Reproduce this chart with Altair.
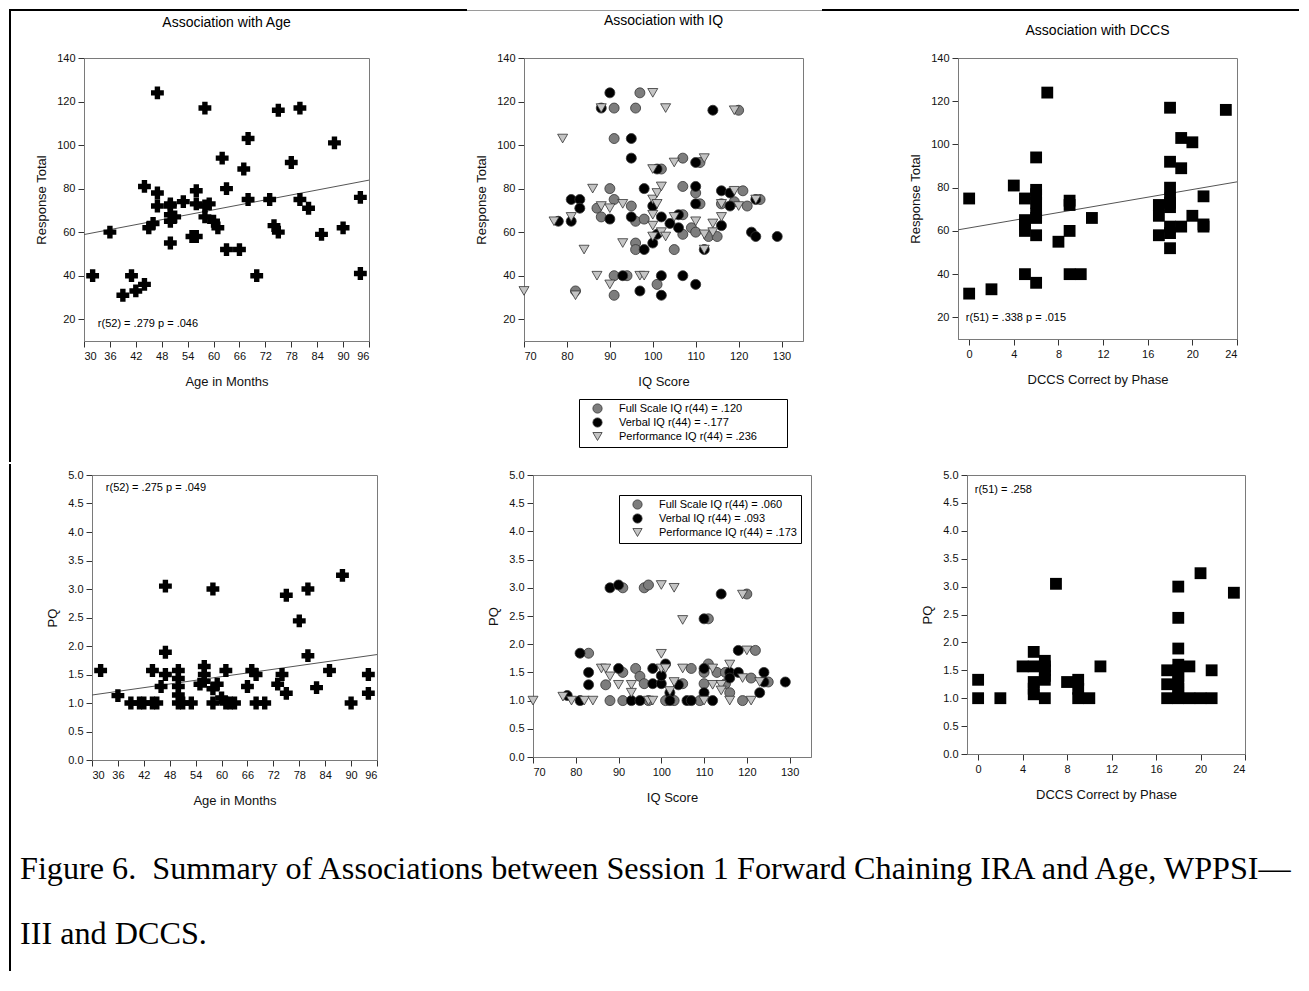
import altair as alt
import pandas as pd

FONT = "Liberation Sans"
SERIF = "Liberation Serif"

# ---------------- data ----------------
# Top-left: Response Total vs Age in Months
age_rt_x = [32, 36, 39, 41, 42, 44, 44, 45, 46, 47, 47, 47, 50, 50, 50, 50, 50, 51, 53, 55,
            56, 56, 56, 58, 58, 58, 59, 60, 61, 62, 63, 63, 66, 67, 68, 68, 70, 73, 74, 75,
            75, 78, 80, 80, 82, 85, 88, 90, 94, 94]
age_rt_y = [40, 60, 31, 40, 33, 36, 81, 62, 64, 124, 78, 72, 73, 72, 68, 65, 55, 67, 74, 58,
            58, 79, 73, 117, 72, 67, 73, 65, 62, 94, 80, 52, 52, 89, 103, 75, 40, 75, 63, 60,
            116, 92, 117, 75, 71, 59, 101, 62, 76, 41]
age_rt_fit_x = [30, 96]
age_rt_fit_y = [58.9, 83.9]

# Bottom-left: PQ vs Age in Months
age_pq_x = [32, 36, 39, 41, 42, 44, 44, 45, 46, 47, 47, 47, 50, 50, 50, 50, 50, 51, 53, 55,
            56, 56, 56, 58, 58, 58, 59, 60, 61, 61, 62, 63, 66, 67, 68, 68, 70, 73, 74, 75,
            75, 78, 80, 80, 82, 85, 88, 90, 94, 94]
age_pq_y = [1.57, 1.13, 1.0, 1.0, 1.0, 1.57, 1.0, 1.0, 1.29, 3.05, 1.89, 1.5, 1.57, 1.43, 1.29,
            1.14, 1.0, 1.0, 1.0, 1.33, 1.64, 1.5, 1.38, 3.0, 1.25, 1.0, 1.33, 1.09, 1.0, 1.57,
            1.0, 1.0, 1.29, 1.57, 1.5, 1.0, 1.0, 1.33, 1.5, 2.89, 1.17, 2.44, 3.0, 1.83, 1.27,
            1.57, 3.24, 1.0, 1.5, 1.17]
age_pq_fit_x = [30, 96]
age_pq_fit_y = [1.14, 1.85]

# Top-right: Response Total vs DCCS
dccs_rt_x = [0, 0, 2, 4, 5, 5, 5, 5, 5, 6, 6, 6, 6, 6, 6, 6, 6, 7, 8, 9, 9, 9, 9, 10, 11,
             17, 17, 17, 18, 18, 18, 18, 18, 18, 18, 18, 18, 19, 19, 19, 20, 20, 21, 21, 21, 23]
dccs_rt_y = [75, 31, 33, 81, 75, 65, 63, 60, 40, 94, 79, 77, 73, 68, 66, 58, 36, 124, 55, 74,
             72, 60, 40, 40, 66, 72, 67, 58, 117, 92, 80, 75, 73, 71, 62, 59, 52, 103, 89, 62,
             101, 67, 76, 63, 62, 116]
dccs_rt_fit_x = [-1, 24]
dccs_rt_fit_y = [60.5, 82.7]

# Bottom-right: PQ vs DCCS
dccs_pq_x = [0, 0, 2, 4, 5, 5, 5, 5, 5, 6, 6, 6, 6, 6, 6, 7, 8, 9, 9, 9, 10, 11, 17, 17, 17,
             18, 18, 18, 18, 18, 18, 18, 18, 18, 18, 19, 19, 20, 20, 21, 21, 23]
dccs_pq_y = [1.33, 1.0, 1.0, 1.57, 1.83, 1.57, 1.29, 1.17, 1.07, 1.67, 1.57, 1.5, 1.4, 1.33,
             1.0, 3.05, 1.29, 1.33, 1.17, 1.0, 1.0, 1.57, 1.5, 1.25, 1.0, 3.0, 2.44, 1.89, 1.6,
             1.5, 1.4, 1.29, 1.17, 1.08, 1.0, 1.57, 1.0, 3.24, 1.0, 1.5, 1.0, 2.89]

# Top-middle: Response Total vs IQ Score
iq_rt_full_x = [82, 87, 88, 90, 91, 91, 91, 91, 91, 94, 95, 96, 96, 96, 96, 97, 98, 101, 102,
                105, 107, 107, 107, 107, 109, 110, 110, 111, 111, 113, 115, 116, 119, 120, 121,
                122, 125]
iq_rt_full_y = [33, 71, 67, 80, 117, 103, 75, 40, 31, 40, 72, 117, 65, 55, 52, 124, 66, 36, 89,
                52, 94, 81, 68, 59, 62, 78, 60, 73, 92, 58, 58, 73, 74, 116, 79, 72, 75]
iq_rt_verbal_x = [78, 81, 81, 83, 83, 88, 90, 90, 93, 95, 95, 95, 97, 98, 98, 100, 100, 101, 101,
                  102, 102, 102, 104, 106, 106, 107, 110, 110, 110, 110, 112, 114, 116, 116, 118,
                  118, 123, 124, 124, 129]
iq_rt_verbal_y = [65, 75, 65, 75, 71, 117, 124, 66, 40, 103, 94, 67, 33, 80, 52, 72, 55, 59, 89,
                  67, 40, 31, 64, 62, 68, 40, 92, 81, 73, 36, 52, 116, 79, 63, 78, 72, 60, 58,
                  75, 58]
iq_rt_perf_x = [70, 77, 79, 81, 82, 84, 86, 87, 88, 88, 90, 90, 93, 93, 97, 98, 100, 100, 100,
                100, 100, 100, 101, 101, 102, 102, 103, 103, 105, 105, 110, 112, 112, 112, 114,
                114, 116, 116, 119, 119, 120, 124]
iq_rt_perf_y = [33, 65, 103, 67, 31, 52, 80, 40, 117, 72, 71, 36, 73, 55, 40, 40, 124, 89, 75,
                68, 63, 58, 78, 73, 81, 60, 117, 58, 92, 67, 65, 94, 59, 52, 64, 60, 73, 67, 116,
                79, 72, 75]

# Bottom-middle: PQ vs IQ Score
iq_pq_full_x = [83, 87, 88, 91, 91, 91, 94, 95, 96, 96, 97, 97, 101, 103, 105, 107, 109, 110,
                110, 111, 111, 113, 115, 115, 116, 119, 120, 121, 122, 125]
iq_pq_full_y = [1.84, 1.28, 1.0, 3.0, 1.5, 1.0, 1.57, 1.43, 3.0, 1.3, 3.05, 1.0, 1.0, 1.0, 1.3,
                1.57, 1.0, 1.5, 1.3, 2.45, 1.65, 1.5, 1.5, 1.3, 1.14, 1.0, 2.89, 1.4, 1.89, 1.33]
iq_pq_verbal_x = [78, 81, 81, 83, 83, 88, 90, 90, 93, 95, 98, 98, 100, 100, 101, 102, 102, 104,
                  106, 107, 110, 110, 110, 112, 114, 116, 116, 118, 118, 123, 124, 124, 129]
iq_pq_verbal_y = [1.09, 1.84, 1.0, 1.5, 1.28, 3.0, 3.05, 1.57, 1.0, 1.0, 1.57, 1.3, 1.3, 1.44,
                  1.65, 1.14, 1.0, 1.28, 1.0, 1.0, 2.45, 1.57, 1.14, 1.0, 2.89, 1.5, 1.4, 1.89,
                  1.5, 1.14, 1.5, 1.33, 1.33]
iq_pq_perf_x = [70, 77, 79, 82, 84, 86, 87, 88, 90, 93, 93, 97, 98, 100, 100, 100, 101, 102, 103,
                103, 105, 105, 110, 112, 112, 114, 114, 116, 116, 119, 119, 120, 121, 123]
iq_pq_perf_y = [1.0, 1.07, 1.0, 1.0, 1.0, 1.57, 1.57, 1.43, 1.28, 1.28, 1.14, 1.0, 1.0, 3.05,
                1.83, 1.57, 1.57, 1.17, 3.0, 1.33, 2.43, 1.57, 1.0, 1.57, 1.28, 1.28, 1.18, 1.64,
                1.0, 2.88, 1.4, 1.89, 1.0, 1.33]

iq_rt_labels = ["Full Scale IQ r(44) = .120", "Verbal IQ r(44) = -.177",
                "Performance IQ r(44) = .236"]
iq_pq_labels = ["Full Scale IQ r(44) = .060", "Verbal IQ r(44) = .093",
                "Performance IQ r(44) = .173"]

panel_titles = ["Association with Age", "Association with IQ", "Association with DCCS"]
caption_lines = ["Figure 6.\u00a0 Summary of Associations between Session 1 Forward Chaining IRA and Age, WPPSI\u2014",
                 "III and DCCS."]

age_ticks = [30, 36, 42, 48, 54, 60, 66, 72, 78, 84, 90, 96]
iq_ticks = [70, 80, 90, 100, 110, 120, 130]
dccs_ticks = [0, 4, 8, 12, 16, 20, 24]
rt_ticks = [20, 40, 60, 80, 100, 120, 140]
pq_ticks = [0.0, 0.5, 1.0, 1.5, 2.0, 2.5, 3.0, 3.5, 4.0, 4.5, 5.0]

# ---------------- styling ----------------
PLUS = "M-0.42,-1H0.42V-0.42H1V0.42H0.42V1H-0.42V0.42H-1V-0.42H-0.42Z"
series_colors = ["#7d7d7d", "#000000", "#c4c4c4"]
series_shapes = ["circle", "circle", "triangle-down"]

one = pd.DataFrame({"a": [0]})


def enc(xdom, ydom, xticks, yticks, xtitle, ytitle, yfmt=None):
    xax = alt.Axis(values=xticks, title=xtitle)
    yax = alt.Axis(values=yticks, title=ytitle, format=yfmt) if yfmt else alt.Axis(values=yticks, title=ytitle)
    x = alt.X("x:Q", scale=alt.Scale(domain=xdom, nice=False, zero=False), axis=xax)
    y = alt.Y("y:Q", scale=alt.Scale(domain=ydom, nice=False, zero=False), axis=yax)
    return x, y


def panel_title(text, cx, cy):
    return alt.Chart(one).mark_text(align="center", baseline="middle", font=FONT, fontSize=14,
                                    color="black").encode(
        x=alt.value(cx), y=alt.value(cy), text=alt.value(text))


def annotation(x, y, xval, yval, txt):
    return alt.Chart(pd.DataFrame({"x": [xval], "y": [yval], "t": [txt]})).mark_text(
        align="left", baseline="middle", font=FONT, fontSize=11, color="black"
    ).encode(x=x, y=y, text="t:N")


def fit(x, y, fx, fy):
    return alt.Chart(pd.DataFrame({"x": fx, "y": fy})).mark_line(
        color="#555555", strokeWidth=1, clip=True).encode(x=x, y=y)


def single_points(x, y, xs, ys, shape, size):
    return alt.Chart(pd.DataFrame({"x": xs, "y": ys})).mark_point(
        shape=shape, filled=True, color="black", size=size, opacity=1).encode(x=x, y=y)


def iq_points(x, y, xs3, ys3, labels, lx, ly, extra_right=0):
    rows = []
    for lab, xs, ys in zip(labels, xs3, ys3):
        for a, b in zip(xs, ys):
            rows.append({"x": a, "y": b, "series": lab})
    df = pd.DataFrame(rows)
    kw = dict(orient="none", legendX=lx, legendY=ly, strokeColor="black",
              fillColor="white", padding=4, labelFont=FONT, labelFontSize=11,
              labelColor="black", symbolSize=85, symbolStrokeColor="#333333",
              symbolStrokeWidth=0.8, rowPadding=1, labelOffset=16, symbolOffset=9)
    if extra_right:
        # blank title on the right side only widens the legend frame
        kw.update(title="\u00a0", titleOrient="right", titlePadding=extra_right,
                  titleFontSize=11)
    else:
        kw.update(title=None)
    leg = alt.Legend(**kw)
    return alt.Chart(df).mark_point(filled=True, size=100, opacity=1, stroke="#333333",
                                    strokeWidth=0.8).encode(
        x=x, y=y,
        color=alt.Color("series:N", scale=alt.Scale(domain=labels, range=series_colors), legend=leg),
        shape=alt.Shape("series:N", scale=alt.Scale(domain=labels, range=series_shapes), legend=leg),
    )


def band(x1, x2, y1, y2, color="black"):
    # filled page-frame segment (a rectangle without stroke, so its bounds are exact)
    return alt.Chart(one).mark_rect(color=color, strokeWidth=0).encode(
        x=alt.value(x1), x2=alt.value(x2), y=alt.value(y1), y2=alt.value(y2))


def spacer(w):
    return alt.Chart(one).mark_point(opacity=0).properties(
        width=w, height=10, view=alt.ViewBackground(strokeOpacity=0))


def indep(c):
    return c.resolve_scale(color="independent", shape="independent").resolve_legend(
        color="independent", shape="independent")


# ---------------- panels ----------------
x, y = enc([30, 96], [10, 140], age_ticks, rt_ticks, "Age in Months", "Response Total")
tl = alt.layer(
    band(-75, 383, -49, -47),
    band(383, 738, -48, -47, color="#9a9a9a"),
    band(738, 1215, -49, -47),
    band(-75, -73, -49, 404),
    panel_title(panel_titles[0], 142.5, -35),
    fit(x, y, age_rt_fit_x, age_rt_fit_y),
    single_points(x, y, age_rt_x, age_rt_y, PLUS, 165),
    annotation(x, y, 33.2, 17.7, "r(52) = .279 p = .046"),
).properties(width=285, height=283)

x, y = enc([70, 135], [10, 140], iq_ticks, rt_ticks, "IQ Score", "Response Total")
tm = alt.layer(
    panel_title(panel_titles[1], 139.5, -37),
    iq_points(x, y, [iq_rt_full_x, iq_rt_verbal_x, iq_rt_perf_x],
              [iq_rt_full_y, iq_rt_verbal_y, iq_rt_perf_y], iq_rt_labels, 55, 341,
              extra_right=26),
).properties(width=279, height=283)

x, y = enc([-1, 24], [10, 140], dccs_ticks, rt_ticks, "DCCS Correct by Phase", "Response Total")
tr = alt.layer(
    panel_title(panel_titles[2], 139.5, -27),
    fit(x, y, dccs_rt_fit_x, dccs_rt_fit_y),
    single_points(x, y, dccs_rt_x, dccs_rt_y, "square", 140),
    annotation(x, y, -0.3, 19.5, "r(51) = .338 p = .015"),
).properties(width=279, height=281)

x, y = enc([30, 96], [0, 5], age_ticks, pq_ticks, "Age in Months", "PQ", ".1f")
caption = alt.Chart(one).mark_text(align="left", baseline="alphabetic", font=SERIF, fontSize=32.2,
                                   lineHeight=65, color="black").encode(
    x=alt.value(-72), y=alt.value(404), text=alt.value(caption_lines))
bl = alt.layer(
    band(-83, -81, -11, 496),
    caption,
    fit(x, y, age_pq_fit_x, age_pq_fit_y),
    single_points(x, y, age_pq_x, age_pq_y, PLUS, 165),
    annotation(x, y, 33.2, 4.77, "r(52) = .275 p = .049"),
).properties(width=285, height=285)

x, y = enc([70, 135], [0, 5], iq_ticks, pq_ticks, "IQ Score", "PQ", ".1f")
bm = alt.layer(
    iq_points(x, y, [iq_pq_full_x, iq_pq_verbal_x, iq_pq_perf_x],
              [iq_pq_full_y, iq_pq_verbal_y, iq_pq_perf_y], iq_pq_labels, 86, 20),
).properties(width=278, height=282)

x, y = enc([-1, 24], [0, 5], dccs_ticks, pq_ticks, "DCCS Correct by Phase", "PQ", ".1f")
br = alt.layer(
    single_points(x, y, dccs_pq_x, dccs_pq_y, "square", 140),
    annotation(x, y, -0.3, 4.73, "r(51) = .258"),
).properties(width=278, height=279)

top_row = indep(alt.hconcat(tl, tm, tr, spacing=155, bounds="flush"))
bottom_inner = indep(alt.hconcat(bl, bm, br, spacing=156, bounds="flush"))
bottom_row = indep(alt.hconcat(spacer(8), bottom_inner, spacing=0, bounds="flush"))

chart = indep(alt.vconcat(top_row, bottom_row, spacing=0)).properties(padding=0).configure(
    font=FONT
).configure_axis(
    labelFont=FONT, labelFontSize=11, labelColor="#111111", titleFont=FONT, titleFontSize=13,
    titleFontWeight="normal", titleColor="#111111", domainColor="#7a7a7a", tickColor="#333333",
    tickSize=6, grid=False, labelPadding=3
).configure_axisX(titlePadding=14).configure_axisY(titlePadding=8).configure_view(
    stroke="#7a7a7a", strokeWidth=1)

chart.save("out.html", embed_options={"renderer": "svg", "actions": False})
